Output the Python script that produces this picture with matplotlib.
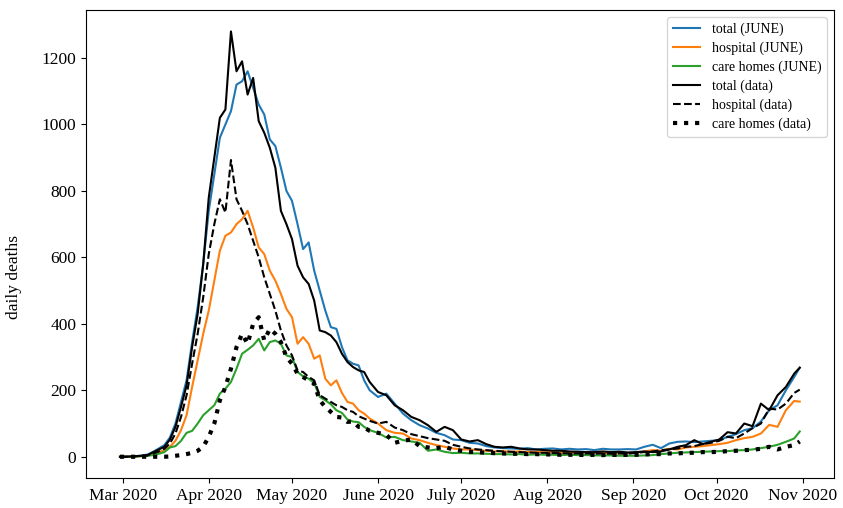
import numpy as np
import pandas as pd
import matplotlib
matplotlib.use('Agg')
import matplotlib.pyplot as plt

plt.rcParams['font.family'] = ['Liberation Serif', 'DejaVu Serif']

# days since 1 March 2020
days = [-1, 1, 3, 5, 7, 9, 11, 13, 15, 17, 19, 21, 23, 25, 27, 29, 31, 33, 35, 37,
        39, 41, 43, 45, 47, 49, 51, 53, 55, 57, 59, 61, 63, 65, 67, 69, 71, 73, 75, 77,
        79, 81, 83, 85, 87, 89,
        92, 95, 98, 101, 104, 107, 110, 113, 116, 119, 122, 125, 128, 131, 134, 137,
        140, 143, 146, 149, 152, 155, 158, 161, 164, 167, 170, 173, 176, 179, 182, 185,
        188, 191, 194, 197, 200, 203, 206, 209, 212, 215, 218, 221, 224, 227, 230, 233,
        236, 239, 242, 244]

total_june = [0, 0, 1, 2, 4, 7, 15, 25, 35, 58, 100, 165, 230, 345, 450, 580, 740, 850, 960, 1000,
              1040, 1120, 1130, 1160, 1110, 1060, 1030, 955, 935, 870, 800, 770, 700, 625, 645, 560, 500, 440, 390, 385,
              330, 290, 280, 275, 230, 200,
              180, 190, 160, 130, 110, 95, 85, 72, 65, 52, 50, 42, 40, 32, 28, 26,
              25, 24, 26, 22, 24, 25, 22, 24, 22, 23, 20, 24, 22, 22, 23, 22,
              30, 36, 26, 40, 45, 46, 44, 46, 48, 50, 60, 68, 80, 86, 106, 140,
              155, 200, 240, 268]

hosp_june = [0, 0, 0, 1, 2, 4, 8, 14, 20, 30, 48, 80, 125, 210, 290, 370, 440, 530, 620, 665,
             675, 700, 715, 740, 690, 630, 610, 560, 530, 490, 445, 420, 340, 360, 340, 295, 305, 235, 215, 230,
             192, 165, 160, 140, 130, 115,
             100, 80, 72, 70, 55, 50, 42, 35, 30, 25, 22, 22, 20, 18, 16, 17,
             15, 16, 14, 15, 13, 14, 12, 13, 12, 14, 12, 11, 12, 10, 11, 12,
             16, 20, 18, 24, 22, 28, 30, 32, 35, 38, 42, 50, 56, 60, 70, 96,
             90, 140, 168, 166]

care_june = [0, 0, 0, 1, 2, 3, 5, 9, 14, 28, 32, 48, 72, 78, 100, 125, 140, 155, 190, 205,
             225, 265, 310, 322, 335, 355, 320, 345, 350, 340, 305, 300, 255, 242, 235, 222, 180, 170, 158, 140,
             132, 112, 106, 104, 90, 80,
             72, 58, 60, 50, 46, 42, 18, 22, 15, 11, 12, 10, 10, 9, 8, 8,
             7, 8, 6, 7, 6, 6, 5, 6, 5, 5, 4, 4, 4, 3, 3, 3,
             4, 5, 8, 10, 12, 13, 14, 15, 16, 17, 17, 19, 20, 22, 26, 30,
             36, 45, 55, 76]

total_data = [0, 0, 1, 2, 3, 5, 14, 22, 30, 52, 90, 150, 215, 330, 430, 580, 780, 900, 1020, 1045,
              1280, 1160, 1190, 1090, 1140, 1010, 975, 930, 870, 740, 700, 655, 575, 540, 520, 470, 380, 375, 365, 345,
              310, 285, 270, 260, 255, 225,
              195, 185, 155, 140, 120, 110, 95, 75, 90, 80, 52, 46, 50, 38, 30, 28,
              30, 25, 22, 22, 20, 18, 18, 16, 15, 14, 14, 16, 14, 15, 13, 14,
              16, 14, 16, 22, 30, 35, 50, 38, 45, 52, 74, 70, 100, 92, 160, 140,
              185, 210, 250, 268]

hosp_data = [0, 0, 1, 2, 3, 4, 10, 16, 24, 40, 70, 120, 185, 280, 370, 480, 610, 700, 775, 735,
             893, 775, 740, 700, 650, 600, 540, 490, 440, 380, 335, 305, 260, 255, 240, 230, 185, 175, 165, 155,
             150, 140, 135, 122, 115, 108,
             100, 105, 88, 80, 68, 62, 56, 52, 48, 36, 30, 25, 22, 20, 18, 16,
             15, 14, 13, 12, 12, 11, 11, 10, 10, 10, 9, 10, 9, 10, 9, 12,
             14, 16, 20, 22, 25, 30, 32, 38, 42, 48, 60, 56, 70, 86, 100, 145,
             142, 160, 192, 202]

care_data = [0, 0, 0, 0, 0, 0, 0, 0, 0, 1, 3, 5, 8, 12, 18, 30, 60, 100, 170, 210,
             265, 330, 370, 340, 400, 420, 350, 385, 370, 345, 300, 280, 250, 240, 230, 220, 170, 150, 135, 120,
             118, 105, 106, 90, 88, 78,
             72, 66, 42, 48, 52, 32, 28, 26, 30, 22, 18, 15, 14, 12, 11, 10,
             9, 9, 8, 8, 7, 7, 6, 6, 6, 5, 6, 5, 6, 5, 6, 6,
             7, 8, 8, 10, 10, 12, 12, 14, 14, 15, 17, 18, 20, 21, 24, 30,
             22, 30, 35, 46]

month_ticks = ['2020-03-01', '2020-04-01', '2020-05-01', '2020-06-01', '2020-07-01',
               '2020-08-01', '2020-09-01', '2020-10-01', '2020-11-01']
month_labels = ['Mar 2020', 'Apr 2020', 'May 2020', 'June 2020', 'July 2020',
                'Aug 2020', 'Sep 2020', 'Oct 2020', 'Nov 2020']

dates = pd.Timestamp('2020-03-01') + pd.to_timedelta(days, unit='D')

fig, ax = plt.subplots(figsize=(8.43, 5.08), dpi=100)
fig.subplots_adjust(left=0.102, right=0.989, top=0.98, bottom=0.059)

ax.plot(dates, total_june, color='C0', lw=1.5, label='total (JUNE)')
ax.plot(dates, hosp_june, color='C1', lw=1.5, label='hospital (JUNE)')
ax.plot(dates, care_june, color='C2', lw=1.5, label='care homes (JUNE)')
ax.plot(dates, total_data, color='k', lw=1.5, label='total (data)')
ax.plot(dates, hosp_data, color='k', lw=1.5, ls='--', label='hospital (data)')
ax.plot(dates, care_data, color='k', lw=3, ls=':', label='care homes (data)')

ax.set_xticks(pd.to_datetime(month_ticks))
ax.set_xticklabels(month_labels)
ax.tick_params(labelsize=12.5)
ax.set_ylabel('daily deaths', fontsize=12.5)
ax.yaxis.set_label_coords(-0.085, 0.43)
ax.legend(loc='upper right', fontsize=10, labelspacing=0.4)

fig.savefig('out.png', dpi=100)
